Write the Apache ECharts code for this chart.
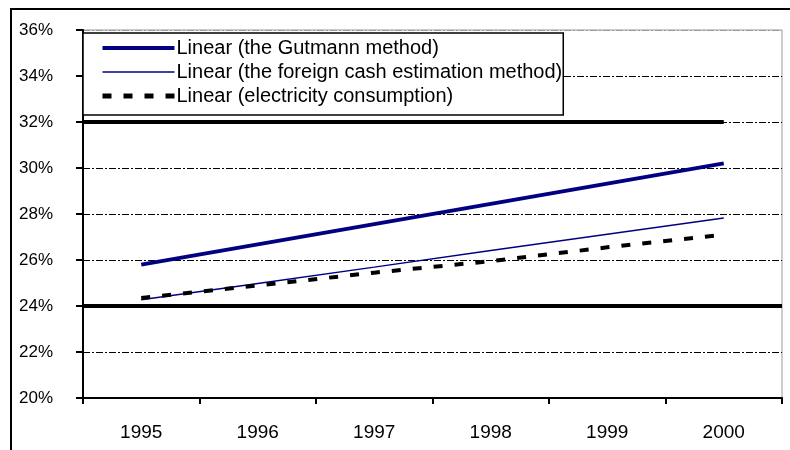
<!DOCTYPE html>
<html>
<head>
<meta charset="utf-8">
<script src="https://cdn.jsdelivr.net/npm/echarts@6/dist/echarts.min.js"></script>
<style>html,body{margin:0;padding:0;background:#fff}#c{width:790px;height:450px}</style>
</head>
<body>
<div id="c"></div>
<script>
var years = ['1995', '1996', '1997', '1998', '1999', '2000'];
var gutmann = [25.8, 26.68, 27.56, 28.44, 29.32, 30.2];
var foreignCash = [24.27, 24.98, 25.69, 26.41, 27.12, 27.83];
var electricity = [24.35, 24.89, 25.45, 25.95, 26.55, 27.1];
var refLine32 = [[0, 32], [5.5, 32]];
var refLine24 = [[0, 24], [6, 24]];
var yTicks = [20, 22, 24, 26, 28, 30, 32, 34, 36];
var seriesNames = ['Linear (the Gutmann method)', 'Linear (the foreign cash estimation method)', 'Linear (electricity consumption)'];

var FONT = '"Liberation Sans", Arial, sans-serif';
var chart = echarts.init(document.getElementById('c'), null, {renderer: 'canvas'});
chart.setOption({
  animation: false,
  backgroundColor: '#fff',
  grid: {left: 83, right: 8, top: 30, bottom: 52, show: true, borderColor: '#999', borderWidth: 1, backgroundColor: 'transparent'},
  graphic: [{
    type: 'rect', shape: {x: 11, y: 9, width: 800, height: 460},
    style: {fill: 'none', stroke: '#000', lineWidth: 2}, z: 0
  }],
  legend: {
    left: 83, top: 33, orient: 'vertical',
    backgroundColor: '#fff', borderColor: '#000', borderWidth: 1.5,
    padding: [5, 1, 9, 17],
    itemWidth: 72, itemHeight: 14, itemGap: 4,
    textStyle: {fontFamily: FONT, fontSize: 20, color: '#000', lineHeight: 20, padding: [0, 0, 0, -3]},
    data: [
      {name: seriesNames[0], lineStyle: {width: 4}, itemStyle: {opacity: 0}},
      {name: seriesNames[1], lineStyle: {width: 1.5}, itemStyle: {opacity: 0}},
      {name: seriesNames[2], lineStyle: {width: 5}, itemStyle: {opacity: 0}}
    ],
    z: 10
  },
  xAxis: [{
    type: 'category', data: years, boundaryGap: true,
    axisLine: {lineStyle: {color: '#000', width: 2}},
    axisTick: {show: true, length: 6, lineStyle: {color: '#000', width: 2}},
    axisLabel: {fontFamily: FONT, fontSize: 19, color: '#000', margin: 25},
    splitLine: {show: false}
  }, {
    type: 'value', min: 0, max: 6, show: false
  }],
  yAxis: {
    type: 'value', min: yTicks[0], max: yTicks[yTicks.length - 1], interval: 2,
    axisLine: {show: true, lineStyle: {color: '#000', width: 2}},
    axisTick: {show: true, length: 7, lineStyle: {color: '#000', width: 2}},
    axisLabel: {fontFamily: FONT, fontSize: 17, color: '#000', margin: 30, formatter: '{value}%'},
    splitLine: {show: true, lineStyle: {color: ['#000','#000','#000','#000','#000','#000','#000','#000','#999'], width: 1, type: [7, 2, 2, 2]}}
  },
  series: [{
    name: 'ref32', type: 'line', xAxisIndex: 1, data: refLine32, symbol: 'none', silent: true,
    lineStyle: {color: '#000', width: 4}, z: 1
  }, {
    name: 'ref24', type: 'line', xAxisIndex: 1, data: refLine24, symbol: 'none', silent: true,
    lineStyle: {color: '#000', width: 4}, z: 1
  }, {
    name: seriesNames[0], type: 'line', data: gutmann, symbol: 'none',
    lineStyle: {color: '#000080', width: 4}, itemStyle: {color: '#000080'}, z: 3
  }, {
    name: seriesNames[1], type: 'line', data: foreignCash, symbol: 'none',
    lineStyle: {color: '#000080', width: 1.5}, itemStyle: {color: '#000080'}, z: 3
  }, {
    name: seriesNames[2], type: 'line', data: electricity, symbol: 'none',
    lineStyle: {color: '#000', width: 4, type: [9, 12]}, itemStyle: {color: '#000'}, z: 3
  }]
});
</script>
</body>
</html>
